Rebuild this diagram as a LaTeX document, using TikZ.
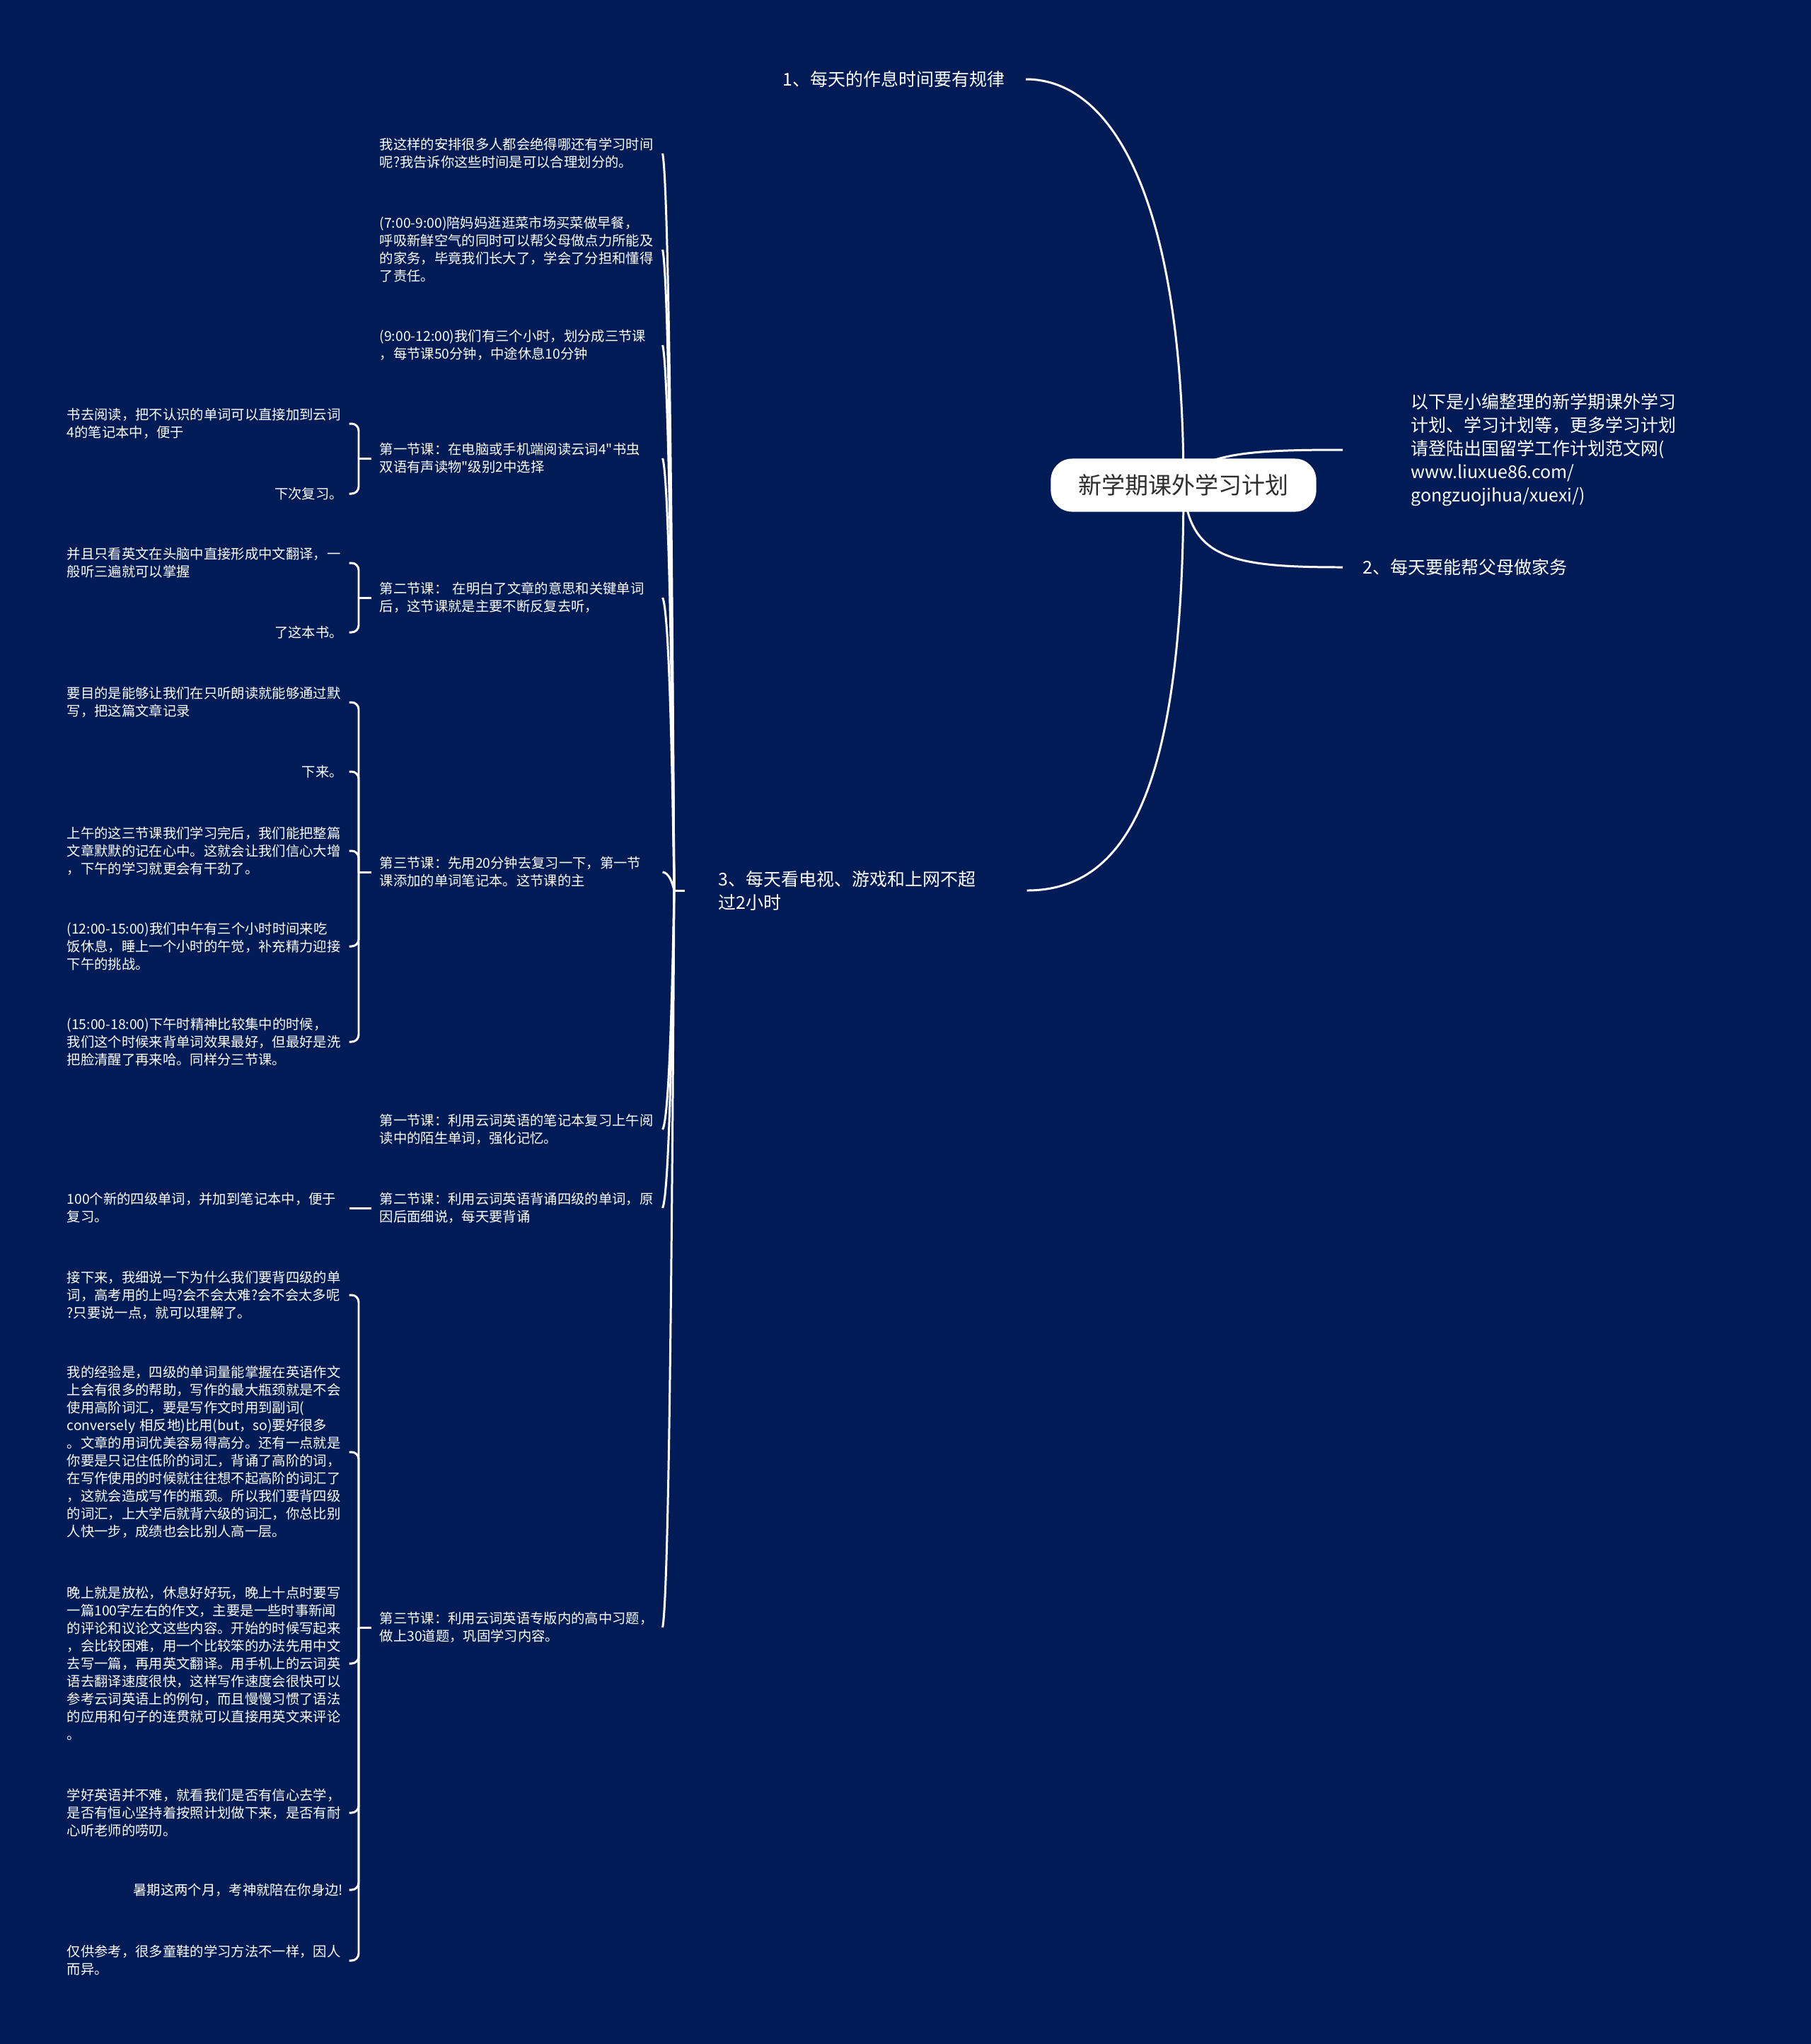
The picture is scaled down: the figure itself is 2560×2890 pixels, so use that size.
\documentclass[tikz,border=0pt]{standalone}
\usepackage{fontspec}
\setmainfont{Noto Sans CJK SC}[Ligatures=TeXOff]
\usetikzlibrary{positioning,calc,backgrounds}
\definecolor{mapnavy}{RGB}{1,27,87}
\definecolor{mapink}{RGB}{45,45,45}

\begin{document}
\begin{tikzpicture}[x=0.01cm, y=-0.01cm,
    rootbox/.style={fill=white, rounded corners=0.3cm, minimum width=3.75cm,
                    minimum height=0.75cm, inner sep=0pt, text=mapink,
                    font=\fontsize{9.4pt}{11pt}\selectfont},
    topic/.style={inner sep=0pt, align=left, text=white,
                  font=\fontsize{7.1pt}{9.4pt}\selectfont},
    subnote/.style={inner sep=0pt, anchor=west, text width=3.9cm, align=left,
                    text=white, font=\fontsize{5.5pt}{7.1pt}\selectfont},
    leafnote/.style={subnote},
    link/.style={draw=white, line width=0.85pt},
    brace/.style={link, rounded corners=0.1cm}
]
\useasboundingbox (0,0) rectangle (2560,2890);

\node[rootbox] (P) at (1673,686) {新学期课外学习计划};
\node[topic, anchor=east] (A) at (1421,112) {1、每天的作息时间要有规律};
\node[topic, anchor=west] (B) at (1994,636) {以下是小编整理的新学期课外学习\\计划、学习计划等，更多学习计划\\请登陆出国留学工作计划范文网(\\www.liuxue86.com/\\gongzuojihua/xuexi/)};
\node[topic, anchor=west] (C) at (1926,802) {2、每天要能帮父母做家务};
\node[topic, anchor=west, text width=4.06cm] (D) at (1015,1259) {3、每天看电视、游戏和上网不超\\过2小时};

\node[subnote] (D1) at (536,217) {我这样的安排很多人都会绝得哪还有学习时间\\呢?我告诉你这些时间是可以合理划分的。};
\node[subnote] (D2) at (536,353) {(7:00-9:00)陪妈妈逛逛菜市场买菜做早餐，\\呼吸新鲜空气的同时可以帮父母做点力所能及\\的家务，毕竟我们长大了，学会了分担和懂得\\了责任。};
\node[subnote] (D3) at (536,488) {(9:00-12:00)我们有三个小时，划分成三节课\\，每节课50分钟，中途休息10分钟};
\node[subnote] (D4) at (536,648) {第一节课：在电脑或手机端阅读云词4"书虫\\双语有声读物"级别2中选择};
\node[subnote] (D5) at (536,845) {第二节课： 在明白了文章的意思和关键单词\\后，这节课就是主要不断反复去听，};
\node[subnote] (D6) at (536,1233) {第三节课：先用20分钟去复习一下，第一节\\课添加的单词笔记本。这节课的主};
\node[subnote] (D7) at (536,1597) {第一节课：利用云词英语的笔记本复习上午阅\\读中的陌生单词，强化记忆。};
\node[subnote] (D8) at (536,1708) {第二节课：利用云词英语背诵四级的单词，原\\因后面细说，每天要背诵};
\node[subnote] (D9) at (536,2301) {第三节课：利用云词英语专版内的高中习题，\\做上30道题，巩固学习内容。};

\node[leafnote] (D4a) at (94,599) {书去阅读，把不认识的单词可以直接加到云词\\4的笔记本中，便于};
\node[leafnote, align=right] (D4b) at (94,698) {下次复习。};
\node[leafnote] (D5a) at (94,796) {并且只看英文在头脑中直接形成中文翻译，一\\般听三遍就可以掌握};
\node[leafnote, align=right] (D5b) at (94,894) {了这本书。};
\node[leafnote] (D6a) at (94,993) {要目的是能够让我们在只听朗读就能够通过默\\写，把这篇文章记录};
\node[leafnote, align=right] (D6b) at (94,1091) {下来。};
\node[leafnote] (D6c) at (94,1203) {上午的这三节课我们学习完后，我们能把整篇\\文章默默的记在心中。这就会让我们信心大增\\，下午的学习就更会有干劲了。};
\node[leafnote] (D6d) at (94,1338) {(12:00-15:00)我们中午有三个小时时间来吃\\饭休息，睡上一个小时的午觉，补充精力迎接\\下午的挑战。};
\node[leafnote] (D6e) at (94,1473) {(15:00-18:00)下午时精神比较集中的时候，\\我们这个时候来背单词效果最好，但最好是洗\\把脸清醒了再来哈。同样分三节课。};
\node[leafnote] (D8a) at (94,1708) {100个新的四级单词，并加到笔记本中，便于\\复习。};
\node[leafnote] (D9a) at (94,1831) {接下来，我细说一下为什么我们要背四级的单\\词，高考用的上吗?会不会太难?会不会太多呢\\?只要说一点，就可以理解了。};
\node[leafnote] (D9b) at (94,2053) {我的经验是，四级的单词量能掌握在英语作文\\上会有很多的帮助，写作的最大瓶颈就是不会\\使用高阶词汇，要是写作文时用到副词(\\conversely 相反地)比用(but，so)要好很多\\。文章的用词优美容易得高分。还有一点就是\\你要是只记住低阶的词汇，背诵了高阶的词，\\在写作使用的时候就往往想不起高阶的词汇了\\，这就会造成写作的瓶颈。所以我们要背四级\\的词汇，上大学后就背六级的词汇，你总比别\\人快一步，成绩也会比别人高一层。};
\node[leafnote] (D9c) at (94,2352) {晚上就是放松，休息好好玩，晚上十点时要写\\一篇100字左右的作文，主要是一些时事新闻\\的评论和议论文这些内容。开始的时候写起来\\，会比较困难，用一个比较笨的办法先用中文\\去写一篇，再用英文翻译。用手机上的云词英\\语去翻译速度很快，这样写作速度会很快可以\\参考云词英语上的例句，而且慢慢习惯了语法\\的应用和句子的连贯就可以直接用英文来评论\\。};
\node[leafnote] (D9d) at (94,2563) {学好英语并不难，就看我们是否有信心去学，\\是否有恒心坚持着按照计划做下来，是否有耐\\心听老师的唠叨。};
\node[leafnote, align=right] (D9e) at (94,2672) {暑期这两个月，考神就陪在你身边!};
\node[leafnote] (D9f) at (94,2772) {仅供参考，很多童鞋的学习方法不一样，因人\\而异。};

\begin{scope}[on background layer]
\fill[mapnavy] (0,0) rectangle (2560,2890);

\draw[link] (P.center) .. controls (1673,300) and (1580,112) .. ($(A.east)+(29,0)$);
\draw[link] (P.center) .. controls (1690,640) and (1770,636) .. ($(B.west)+(-96,0)$);
\draw[link] (P.center) .. controls (1680,790) and (1740,802) .. ($(C.west)+(-28,0)$);
\draw[link] (P.center) .. controls (1673,1100) and (1600,1259) .. ($(D.east)+(29,0)$);

\coordinate (H) at ($(D.west)+(-62,0)$);
\draw[link] ($(D.west)+(-47,0)$) -- (H);
\foreach \i in {1,...,9} {
  \coordinate (E\i) at ($(D\i.east)+(9,0)$);
  \draw[link] (H) .. controls ($(H)!0.5!(E\i)+(5,0)$) and ($(E\i)!0.045!(H)+(8,0)$) .. (E\i);
}

\foreach \p/\kids in {4/{a,b}, 5/{a,b}, 6/{a,b,c,d,e}, 9/{a,b,c,d,e,f}} {
  \coordinate (T\p) at ($(D\p.west)+(-29,0)$);
  \draw[link] ($(D\p.west)+(-11,0)$) -- (T\p);
  \foreach \k in \kids
    \draw[brace] (T\p) |- ($(D\p\k.east)+(8,0)$);
}
\draw[link] ($(D8.west)+(-11,0)$) -- ($(D8a.east)+(8,0)$);
\end{scope}
\end{tikzpicture}
\end{document}
